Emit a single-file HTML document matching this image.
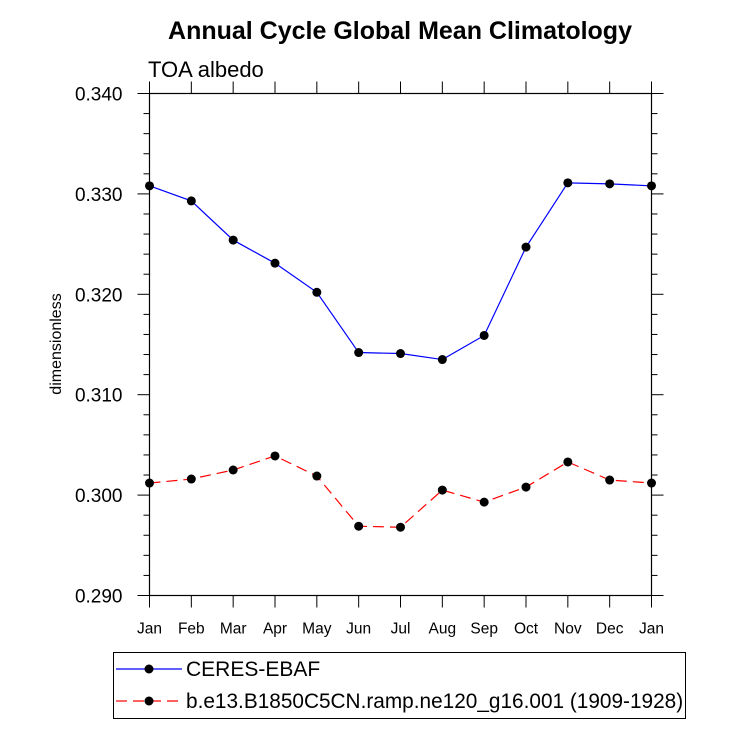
<!DOCTYPE html>
<html><head><meta charset="utf-8"><style>
body{margin:0;background:#fff}
svg text{font-family:"Liberation Sans",sans-serif}
</style></head><body>
<svg id="chart" width="733" height="725" xmlns="http://www.w3.org/2000/svg">
<text x="400" y="39" text-anchor="middle" font-size="25" font-weight="bold">Annual Cycle Global Mean Climatology</text>
<text x="148" y="77" font-size="22">TOA albedo</text>
<text transform="translate(61,344) rotate(-90)" text-anchor="middle" font-size="16">dimensionless</text>
<g id="axes"></g>
<g id="series"></g>
<rect x="113.5" y="652.5" width="572" height="66" fill="none" stroke="#000" stroke-width="1"/>
<g>
<line x1="116" y1="669" x2="182" y2="669" stroke="#0000ff" stroke-width="1.2"/>
<circle cx="149" cy="669" r="4.5" fill="#000"/>
<text x="186" y="676" font-size="21">CERES-EBAF</text>
</g>
<g>
<line x1="116" y1="701" x2="182" y2="701" stroke="#ff0000" stroke-width="1.2" stroke-dasharray="11,6"/>
<circle cx="149" cy="701" r="4.5" fill="#000"/>
<text x="186" y="708" font-size="20.8">b.e13.B1850C5CN.ramp.ne120_g16.001 (1909-1928)</text>
</g>
</svg>
<script>
const months = ["Jan","Feb","Mar","Apr","May","Jun","Jul","Aug","Sep","Oct","Nov","Dec","Jan"];
const ceresValues = [0.3308,0.3293,0.3254,0.3231,0.3202,0.3142,0.3141,0.3135,0.3159,0.3247,0.3311,0.3310,0.3308];
const modelValues = [0.3012,0.3016,0.3025,0.3039,0.3019,0.2969,0.2968,0.3005,0.2993,0.3008,0.3033,0.3015,0.3012];
const yTicks = [0.290,0.300,0.310,0.320,0.330,0.340];
const yTickLabels = ["0.290","0.300","0.310","0.320","0.330","0.340"];

const X0=149.5,X1=651.5,Y0=595.5,Y1=93.5,YMIN=0.290,YMAX=0.340;
const NS="http://www.w3.org/2000/svg";
function xs(i){return X0+(X1-X0)*i/(months.length-1);}
function ys(v){return Y0-(Y0-Y1)*(v-YMIN)/(YMAX-YMIN);}
function mk(tag,attrs,parent){const e=document.createElementNS(NS,tag);for(const k in attrs)e.setAttribute(k,attrs[k]);parent.appendChild(e);return e;}
const axes=document.getElementById('axes');
const frame=mk('rect',{x:X0,y:Y1,width:X1-X0,height:Y0-Y1,fill:'none',stroke:'#000','stroke-width':1.2},axes);


for(let v=YMIN; v<=YMAX+1e-9; v+=0.002){
  const y=ys(v); const major=Math.abs(Math.round(v*100)-v*100)<1e-6;
  const L=major?12:6;
  const t1=mk('line',{x1:X0-L,y1:y,x2:X0,y2:y,stroke:'#000','stroke-width':1},axes);
  
  
  const t2=mk('line',{x1:X1,y1:y,x2:X1+L,y2:y,stroke:'#000','stroke-width':1},axes);
  
  
}
yTicks.forEach((v,i)=>{
  const t=mk('text',{x:X0-27,y:ys(v)+7,'text-anchor':'end','font-size':19},axes);
  t.textContent=yTickLabels[i];
  
  
});
months.forEach((m,i)=>{
  const x=xs(i);
  const b=mk('line',{x1:x,y1:Y0,x2:x,y2:Y0+12,stroke:'#000','stroke-width':1},axes);
  
  
  const t=mk('line',{x1:x,y1:Y1-12,x2:x,y2:Y1,stroke:'#000','stroke-width':1},axes);
  
  
  const l=mk('text',{x:x,y:Y0+38,'text-anchor':'middle','font-size':15.5},axes);
  l.textContent=m;
  
  
});
const series=document.getElementById('series');
function draw(vals,color,dash,name){
  const pts=vals.map((v,i)=>xs(i)+','+ys(v)).join(' ');
  const pl=mk('polyline',{points:pts,fill:'none',stroke:color,'stroke-width':1.2},series);
  if(dash) pl.setAttribute('stroke-dasharray',dash);
  
  
  vals.forEach((v,i)=>{
    const c=mk('circle',{cx:xs(i),cy:ys(v),r:4.5,fill:'#000'},series);
    
    
  });
}
draw(ceresValues,'#0000ff',null,'ceres');
draw(modelValues,'#ff0000','11,6','model');
</script>
</body></html>
